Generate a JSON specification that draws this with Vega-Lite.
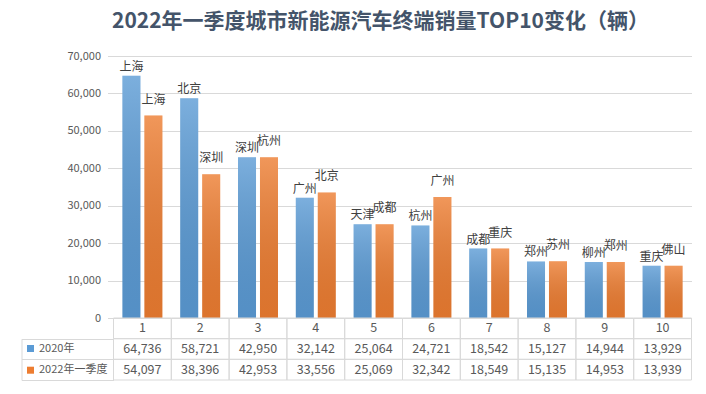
{
  "$schema": "https://vega.github.io/schema/vega-lite/v6.json",
  "background": "white",
  "padding": {"left": 20.5, "top": 11, "right": 5, "bottom": 5},
  "title": {"text": "2022年一季度城市新能源汽车终端销量TOP10变化（辆）", "anchor": "start", "dx": 91, "font": "Noto Sans CJK SC", "fontSize": 21, "fontWeight": "bold", "color": "#44546a", "offset": 18},
  "bounds": "flush",
  "spacing": 0,
  "config": {"view": {"stroke": null}, "font": "Noto Sans CJK SC"},
  "datasets": {
    "sales": [
      {"rank": 1, "series": "2020年", "city": "上海", "value": 64736},
      {"rank": 2, "series": "2020年", "city": "北京", "value": 58721},
      {"rank": 3, "series": "2020年", "city": "深圳", "value": 42950},
      {"rank": 4, "series": "2020年", "city": "广州", "value": 32142},
      {"rank": 5, "series": "2020年", "city": "天津", "value": 25064},
      {"rank": 6, "series": "2020年", "city": "杭州", "value": 24721},
      {"rank": 7, "series": "2020年", "city": "成都", "value": 18542},
      {"rank": 8, "series": "2020年", "city": "郑州", "value": 15127},
      {"rank": 9, "series": "2020年", "city": "柳州", "value": 14944},
      {"rank": 10, "series": "2020年", "city": "重庆", "value": 13929},
      {"rank": 1, "series": "2022年一季度", "city": "上海", "value": 54097},
      {"rank": 2, "series": "2022年一季度", "city": "深圳", "value": 38396},
      {"rank": 3, "series": "2022年一季度", "city": "杭州", "value": 42953},
      {"rank": 4, "series": "2022年一季度", "city": "北京", "value": 33556},
      {"rank": 5, "series": "2022年一季度", "city": "成都", "value": 25069},
      {"rank": 6, "series": "2022年一季度", "city": "广州", "value": 32342},
      {"rank": 7, "series": "2022年一季度", "city": "重庆", "value": 18549},
      {"rank": 8, "series": "2022年一季度", "city": "苏州", "value": 15135},
      {"rank": 9, "series": "2022年一季度", "city": "郑州", "value": 14953},
      {"rank": 10, "series": "2022年一季度", "city": "佛山", "value": 13939}
    ]
  },
  "vconcat": [
    {
      "width": 578,
      "height": 262,
      "data": {"name": "sales"},
      "encoding": {
        "x": {"field": "rank", "type": "ordinal", "axis": null, "scale": {"paddingInner": 0.308, "paddingOuter": 0.154}},
        "xOffset": {"field": "series", "type": "nominal", "sort": ["2020年", "2022年一季度"], "scale": {"paddingInner": 0.18, "paddingOuter": 0}},
        "y": {
          "field": "value", "type": "quantitative",
          "scale": {"domain": [0, 70000]},
          "axis": {"values": [0, 10000, 20000, 30000, 40000, 50000, 60000, 70000], "format": ",d", "title": null, "domain": false, "ticks": true, "tickSize": 6, "tickColor": "#d9d9d9", "gridColor": "#d9d9d9", "labelFontSize": 11, "labelColor": "#595959", "labelPadding": 7, "labelFont": "Noto Sans CJK SC"}
        }
      },
      "layer": [
        {
          "mark": {"type": "bar"},
          "encoding": {
            "color": {
              "field": "series", "type": "nominal",
              "scale": {"domain": ["2020年", "2022年一季度"], "range": ["#5b9bd5", "#ed7d31"]},
              "legend": {"orient": "none", "legendX": -88.5, "legendY": 287, "title": null, "symbolType": "square", "symbolSize": 49, "symbolStrokeWidth": 0, "labelFontSize": 11, "labelColor": "#595959", "labelFont": "Noto Sans CJK SC", "rowPadding": 9.7, "padding": 0, "labelOffset": 3, "direction": "vertical"}
            }
          }
        },
        {
          "mark": {"type": "bar", "color": {"gradient": "linear", "x1": 0, "y1": 0, "x2": 0, "y2": 1, "stops": [{"offset": 0, "color": "rgba(255,255,255,0.2)"}, {"offset": 1, "color": "rgba(0,0,0,0.07)"}]}}
        },
        {
          "transform": [{"filter": "datum.series == '2020年'"}],
          "mark": {"type": "text", "baseline": "bottom", "dy": -2, "fontSize": 12, "color": "#404040", "font": "Noto Sans CJK SC"},
          "encoding": {"text": {"field": "city", "type": "nominal"}}
        },
        {
          "transform": [{"filter": "datum.series == '2022年一季度'"}],
          "mark": {"type": "text", "baseline": "bottom", "dy": -9, "fontSize": 12, "color": "#404040", "font": "Noto Sans CJK SC"},
          "encoding": {"text": {"field": "city", "type": "nominal"}}
        }
      ]
    },
    {
      "width": 578,
      "height": 62,
      "data": {"name": "sales"},
      "encoding": {
        "x": {"field": "rank", "type": "ordinal", "axis": null, "scale": {"padding": 0}}
      },
      "layer": [
        {
          "mark": {"type": "rect", "fill": "transparent", "stroke": "#d9d9d9", "strokeWidth": 1},
          "encoding": {
            "y": {
              "field": "series", "type": "nominal",
              "scale": {"domain": ["名次", "2020年", "2022年一季度"], "padding": 0},
              "axis": {"orient": "left", "offset": 92, "labels": false, "title": null, "domain": true, "domainColor": "#d9d9d9", "domainDash": [0, 20.7, 41.4, 0], "ticks": true, "tickBand": "extent", "tickSize": -92, "tickColor": "#d9d9d9", "values": ["2020年", "2022年一季度"], "grid": false}
            }
          }
        },
        {
          "transform": [{"filter": "datum.series == '2020年'"}],
          "mark": {"type": "rect", "fill": "transparent", "stroke": "#d9d9d9", "strokeWidth": 1},
          "encoding": {"y": {"datum": "名次", "type": "nominal"}}
        },
        {
          "mark": {"type": "text", "fontSize": 12.5, "color": "#595959", "font": "Noto Sans CJK SC"},
          "encoding": {
            "y": {"field": "series", "type": "nominal"},
            "text": {"field": "value", "type": "quantitative", "format": ","}
          }
        },
        {
          "transform": [{"filter": "datum.series == '2020年'"}],
          "mark": {"type": "text", "fontSize": 12.5, "color": "#595959", "font": "Noto Sans CJK SC"},
          "encoding": {
            "y": {"datum": "名次", "type": "nominal"},
            "text": {"field": "rank", "type": "ordinal"}
          }
        }
      ]
    }
  ]
}
